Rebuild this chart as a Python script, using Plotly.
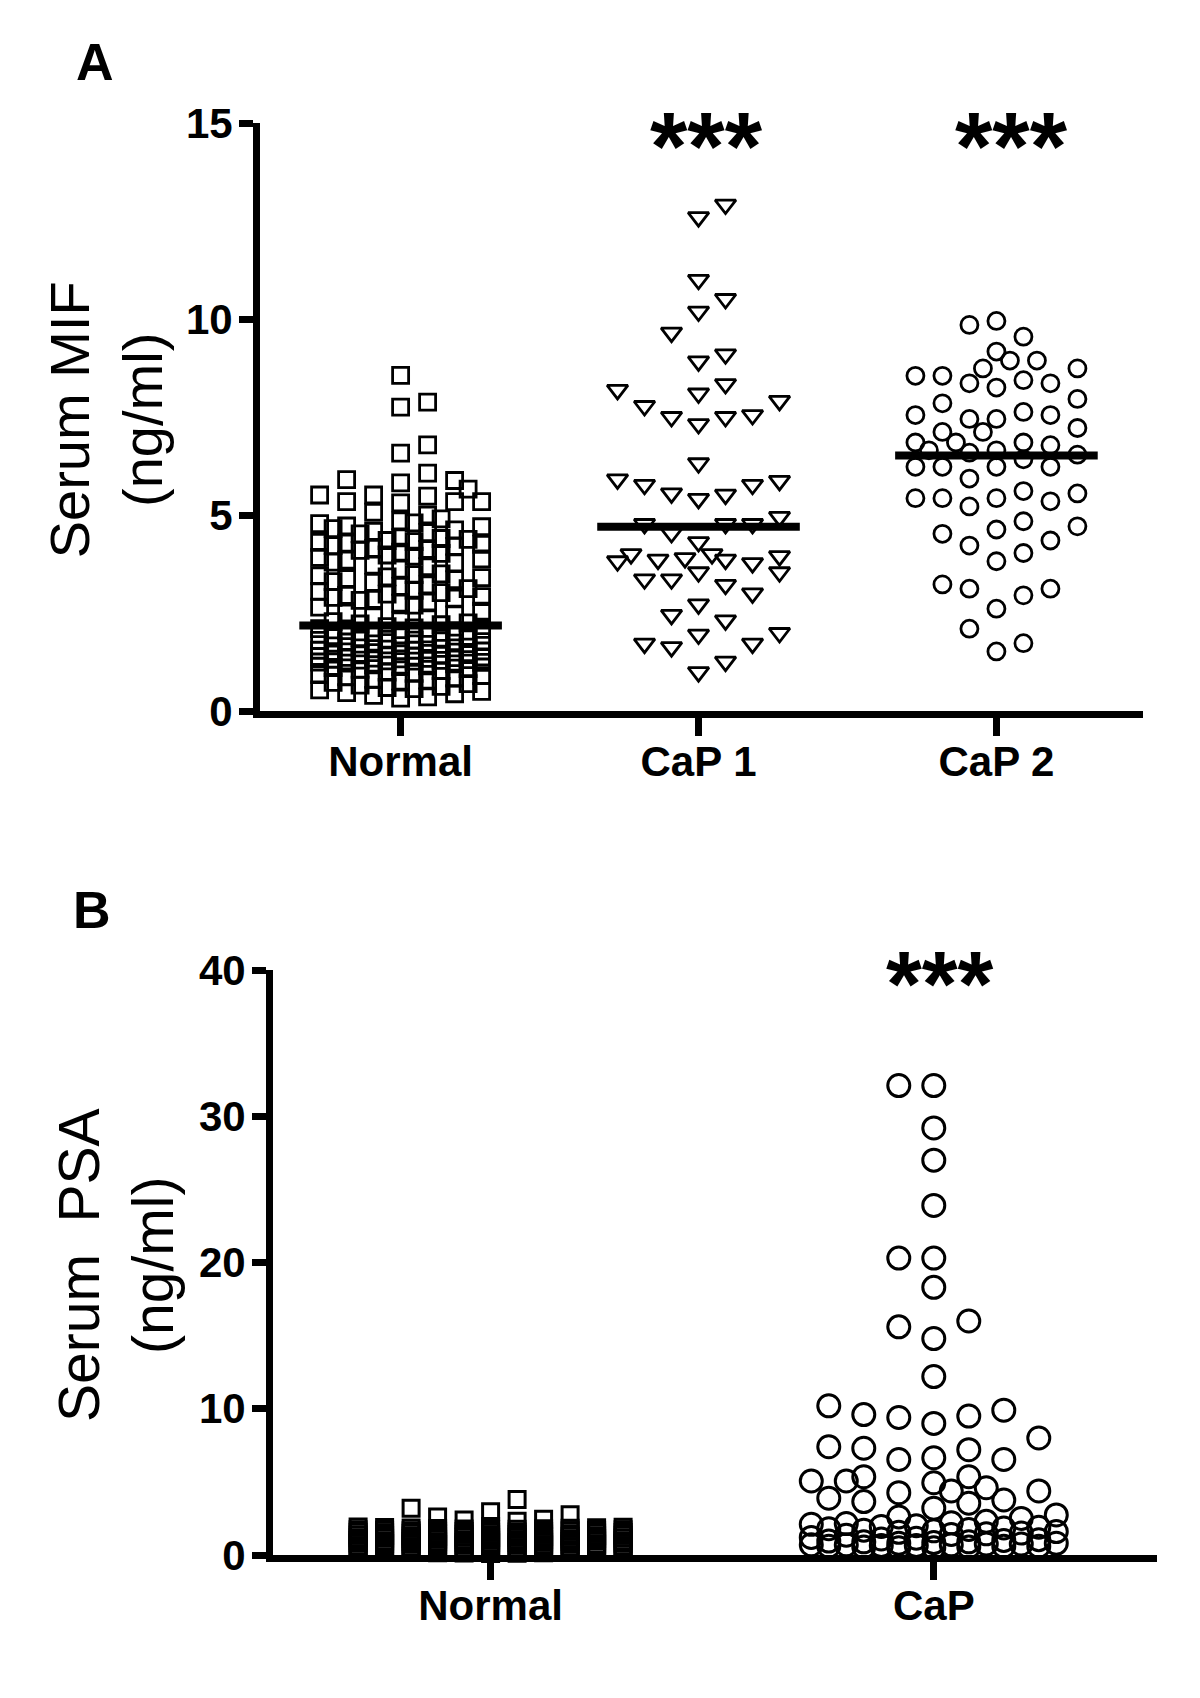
import math
import plotly.graph_objects as go

# ---------------- data ----------------
mif_categories = ["Normal", "CaP 1", "CaP 2"]
psa_categories = ["Normal", "CaP"]

mif_normal = [
    8.56, 7.88, 7.75, 6.79, 6.58, 6.07, 5.90, 5.88, 5.82, 5.66, 5.51, 5.51, 5.48, 5.34, 5.34, 5.34, 5.31, 5.07, 5.00,
    4.90, 4.85, 4.80, 4.78, 4.72, 4.70, 4.65, 4.62, 4.58, 4.55, 4.52,
    4.42, 4.40, 4.38, 4.35, 4.32, 4.30, 4.28, 4.25, 4.22, 4.20, 4.15, 4.12, 4.10, 4.05, 4.02,
    3.98, 3.95, 3.92, 3.88, 3.85, 3.80, 3.78, 3.72, 3.68, 3.62,
    3.50, 3.48, 3.45, 3.42, 3.40, 3.38, 3.35, 3.30, 3.28, 3.22, 3.18, 3.12, 3.08, 3.05, 3.02,
    2.98, 2.95, 2.92, 2.90, 2.88, 2.85, 2.82, 2.78, 2.75, 2.70, 2.65,
    2.55, 2.50, 2.45, 2.40, 2.35, 2.30, 2.28, 2.25, 2.22, 2.20,
    2.15, 2.12, 2.10, 2.08, 2.05, 2.02, 2.00, 1.97, 1.94, 1.92,
    1.90, 1.87, 1.86, 1.83, 1.81, 1.80, 1.77, 1.76, 1.73, 1.71, 1.70, 1.67, 1.66, 1.63, 1.61, 1.60,
    1.58, 1.55, 1.55, 1.53, 1.51, 1.50, 1.49, 1.47, 1.46, 1.45, 1.44, 1.43, 1.42, 1.41, 1.40, 1.39,
    1.38, 1.37, 1.36, 1.35, 1.34, 1.33, 1.32, 1.31, 1.30, 1.29, 1.28, 1.27, 1.25, 1.24, 1.22, 1.20,
    1.18, 1.15, 1.13, 1.11, 1.08, 1.06,
    1.03, 0.99, 0.96, 0.93, 0.90, 0.87, 0.84, 0.81, 0.79, 0.76, 0.73, 0.70, 0.66, 0.63, 0.60,
    0.57, 0.54, 0.50, 0.47, 0.44, 0.40, 0.36, 0.33,
]

mif_cap1 = [
    12.92, 12.60, 11.00, 10.51, 10.19, 9.65, 9.10, 8.92, 8.34, 8.19, 8.10, 7.78, 7.91, 7.50,
    7.32, 7.50, 7.55, 6.32, 5.91, 5.77, 5.55, 5.41, 5.52, 5.77, 5.87, 4.95, 4.77, 4.77, 4.77,
    4.54, 4.31, 3.77, 3.95, 3.54, 3.86, 3.36, 3.00, 4.00, 3.86, 4.00, 3.90, 3.54, 3.82, 3.22,
    3.36, 2.72, 2.45, 2.31, 1.95, 1.63, 1.72, 1.99, 1.72, 1.26, 0.99,
]

mif_cap2 = [
    9.85, 9.95, 9.55, 9.17, 8.94, 8.94, 8.74, 8.74, 8.55, 8.36, 8.25, 8.36, 8.44, 8.55, 7.96,
    7.85, 7.55, 7.45, 7.45, 7.22, 7.55, 7.63, 7.12, 7.12, 6.85, 6.78, 6.85, 6.85, 6.59, 6.65,
    6.65, 6.42, 6.54, 6.23, 6.23, 6.23, 6.23, 5.93, 5.61, 5.43, 5.43, 5.22, 5.35, 5.43, 5.55,
    4.84, 4.63, 4.52, 4.71, 4.22, 3.82, 4.03, 4.35, 3.12, 2.95, 2.61, 3.12, 3.23, 2.10, 1.52,
    1.73,
]

mif_medians = [2.18, 4.70, 6.52]

psa_normal = [
    3.80, 3.20, 2.95, 2.75, 2.60, 2.45, 2.40, 2.30,
    1.95, 1.92, 1.90, 1.88, 1.86, 1.85, 1.83, 1.82, 1.80, 1.78, 1.76, 1.75, 1.73, 1.72,
    1.70, 1.68, 1.66, 1.65, 1.63, 1.61, 1.60, 1.58, 1.56, 1.55, 1.53, 1.52, 1.50, 1.48,
    1.46, 1.45, 1.43, 1.42, 1.40, 1.38, 1.36, 1.35, 1.33, 1.31, 1.30, 1.28, 1.26, 1.25,
    1.23, 1.22, 1.20, 1.18, 1.16, 1.15, 1.13, 1.12, 1.10, 1.08, 1.06, 1.05, 1.03, 1.01,
    1.00, 0.98, 0.96, 0.95, 0.93, 0.92, 0.90, 0.88, 0.86, 0.85, 0.83, 0.82, 0.80, 0.78,
    0.76, 0.75, 0.73, 0.72, 0.70, 0.68, 0.66, 0.65, 0.63, 0.62, 0.60, 0.58, 0.56, 0.55,
    0.53, 0.52, 0.50, 0.48, 0.46, 0.45, 0.43, 0.42, 0.40, 0.38, 0.36, 0.35, 0.33, 0.32,
    0.30, 0.28, 0.26, 0.25, 0.23, 0.22, 0.20, 0.18, 0.16, 0.15, 0.13, 0.12, 0.10,
]

psa_cap = [
    32.1, 32.1, 29.2, 27.0, 23.9, 20.3, 20.3, 18.3, 16.0, 15.6, 14.8, 12.2,
    10.2, 9.9, 9.6, 9.5, 9.4, 9.0, 8.0, 7.4, 7.3, 7.2, 6.65, 6.53, 6.53,
    5.35, 5.35, 5.06, 5.06, 4.94, 4.60, 4.38, 4.38, 4.26, 3.88, 3.76, 3.65, 3.54,
    3.20, 2.74, 2.60, 2.50,
    2.30, 2.20, 2.15, 2.10, 2.00, 1.95, 1.90, 1.85, 1.80, 1.75, 1.70, 1.65, 1.60, 1.55,
    1.50, 1.45, 1.40, 1.35,
    1.20, 1.15, 1.10, 1.05, 1.00, 0.95, 0.90, 0.90, 0.85, 0.80, 0.80, 0.75, 0.75, 0.70,
    0.70, 0.70, 0.65, 0.65, 0.60, 0.60, 0.60, 0.55, 0.55, 0.50, 0.50,
]

# ---------------- geometry ----------------
W, H = 1200, 1698
OFF = 8  # page body margin offset
FONT = "Liberation Sans, Arial, Helvetica, sans-serif"


def fx(p):
    return (p - OFF) / W


def fy(p):
    return 1 - (p - OFF) / H


# rendered pixel targets
A_X = (260, 1142.7)
A_XR = [-0.472, 2.491]
A_Y = (711, 123)
B_X = (273, 1156.7)
B_XR = [-0.491, 1.503]
B_Y = (1555, 970)
A_xpx = (A_X[1] - A_X[0]) / (A_XR[1] - A_XR[0])
A_ypx = (A_Y[0] - A_Y[1]) / 15.0
B_xpx = (B_X[1] - B_X[0]) / (B_XR[1] - B_XR[0])
B_ypx = (B_Y[0] - B_Y[1]) / 40.0


def swarm(values, center, step, nslots, d, xpx, ypx, ext, half=True, first=1):
    """Column-scatter layout: deterministic slot assignment."""
    order = sorted(range(len(values)), key=lambda i: values[i])
    primary = [0]
    for k in range(1, nslots + 1):
        primary += [first * k, -first * k]
    if half:
        n = int(round(ext * 2))
        extended = [k / 2.0 for k in range(-n, n + 1)]
    else:
        extended = list(range(-nslots, nslots + 1))
    placed = []
    xs = [0.0] * len(values)
    for i in order:
        v = values[i]
        chosen = None
        for s in primary:
            if all(abs(v - pv) >= d for ps, pv in placed if ps == s):
                chosen = s
                break
        if chosen is None:
            best = -1.0
            for s in extended:
                md = min(math.hypot((s - ps) * step * xpx, (v - pv) * ypx) for ps, pv in placed)
                if md > best + 1e-9:
                    best = md
                    chosen = s
        placed.append((chosen, v))
        xs[i] = center + chosen * step
    return xs


fig = go.Figure()

# ---------- Panel A ----------
stepA = 27.0 / A_xpx
groupsA = [
    (mif_normal, "square-open", 16, 2.8, 0.42, True),
    (mif_cap1, "triangle-down-open", 18, 2.8, 0.75, True),
    (mif_cap2, "circle-open", 17, 2.8, 0.75, True),
]
for ci, (vals, sym, size, lw, d, half) in enumerate(groupsA):
    xs = swarm(vals, ci, stepA, 3, d, A_xpx, A_ypx, 3.0, half=half)
    fig.add_trace(go.Scatter(
        x=xs, y=vals, mode="markers", xaxis="x", yaxis="y", cliponaxis=False,
        marker=dict(symbol=sym, size=size, color="black", line=dict(width=lw, color="black")),
        showlegend=False, hoverinfo="y"))

half_widths = [0.34, 0.34, 0.34]
for ci, m in enumerate(mif_medians):
    fig.add_trace(go.Scatter(
        x=[ci - half_widths[ci], ci + half_widths[ci]], y=[m, m], mode="lines",
        xaxis="x", yaxis="y", cliponaxis=False,
        line=dict(color="black", width=8), showlegend=False, hoverinfo="skip"))

# ---------- Panel B ----------
xsN = swarm(psa_normal, 0, 26.5 / B_xpx, 5, 0.96, B_xpx, B_ypx, 5.0, half=False)
fig.add_trace(go.Scatter(
    x=xsN, y=psa_normal, mode="markers", xaxis="x2", yaxis="y2", cliponaxis=False,
    marker=dict(symbol="square-open", size=16, color="black", line=dict(width=3, color="black")),
    showlegend=False, hoverinfo="y"))
xsC = swarm(psa_cap, 1, 35.0 / B_xpx, 3, 1.6, B_xpx, B_ypx, 3.5, first=-1)
fig.add_trace(go.Scatter(
    x=xsC, y=psa_cap, mode="markers", xaxis="x2", yaxis="y2", cliponaxis=False,
    marker=dict(symbol="circle-open", size=22, color="black", line=dict(width=3, color="black")),
    showlegend=False, hoverinfo="y"))

tickfont = dict(family=FONT, size=42, color="black", weight="bold")
common_axis = dict(showline=True, linecolor="black", linewidth=7, ticks="outside",
                   tickwidth=7, tickcolor="black", showgrid=False, zeroline=False,
                   tickfont=tickfont, fixedrange=True, automargin=False)

fig.update_layout(
    width=W, height=H, margin=dict(l=0, r=0, t=0, b=0, pad=0, autoexpand=False),
    paper_bgcolor="white", plot_bgcolor="white", showlegend=False,
    xaxis=dict(domain=[fx(A_X[0]), fx(A_X[1])], range=A_XR, anchor="y",
               tickvals=[0, 1, 2], ticktext=mif_categories, ticklen=18,
               ticklabelstandoff=-10, **common_axis),
    yaxis=dict(domain=[fy(A_Y[0]), fy(A_Y[1])], range=[0, 15], anchor="x",
               tickvals=[0, 5, 10, 15], ticklen=14, ticklabelstandoff=-2, **common_axis),
    xaxis2=dict(domain=[fx(B_X[0]), fx(B_X[1])], range=B_XR, anchor="y2",
                tickvals=[0, 1], ticktext=psa_categories, ticklen=18,
                ticklabelstandoff=-10, **common_axis),
    yaxis2=dict(domain=[fy(B_Y[0]), fy(B_Y[1])], range=[0, 40], anchor="x2",
                tickvals=[0, 10, 20, 30, 40], ticklen=14, ticklabelstandoff=-2, **common_axis),
)

ann = []
ann.append(dict(text="A", x=fx(95), y=fy(62), xref="paper", yref="paper", showarrow=False,
                xanchor="center", yanchor="middle",
                font=dict(family=FONT, size=52, color="black", weight="bold")))
ann.append(dict(text="B", x=fx(92), y=fy(909.5), xref="paper", yref="paper", showarrow=False,
                xanchor="center", yanchor="middle",
                font=dict(family=FONT, size=52, color="black", weight="bold")))
ann.append(dict(text="Serum MIF<br>(ng/ml)", x=fx(105.6), y=fy(419.7), xref="paper", yref="paper",
                showarrow=False, textangle=-90, xanchor="center", yanchor="middle",
                font=dict(family=FONT, size=56, color="black")))
ann.append(dict(text="Serum  PSA<br>(ng/ml)", x=fx(115.5), y=fy(1265.5), xref="paper", yref="paper",
                showarrow=False, textangle=-90, xanchor="center", yanchor="middle",
                font=dict(family=FONT, size=57, color="black")))
for xc in [706.7, 1011]:
    ann.append(dict(text="***", x=fx(xc), y=fy(145.7), xref="paper", yref="paper", showarrow=False,
                    xanchor="center", yanchor="middle",
                    font=dict(family=FONT, size=96, color="black", weight="bold")))
ann.append(dict(text="***", x=fx(940), y=fy(984), xref="paper", yref="paper", showarrow=False,
                xanchor="center", yanchor="middle",
                font=dict(family=FONT, size=92, color="black", weight="bold")))
fig.update_layout(annotations=ann)

fig.write_html("out.html")
